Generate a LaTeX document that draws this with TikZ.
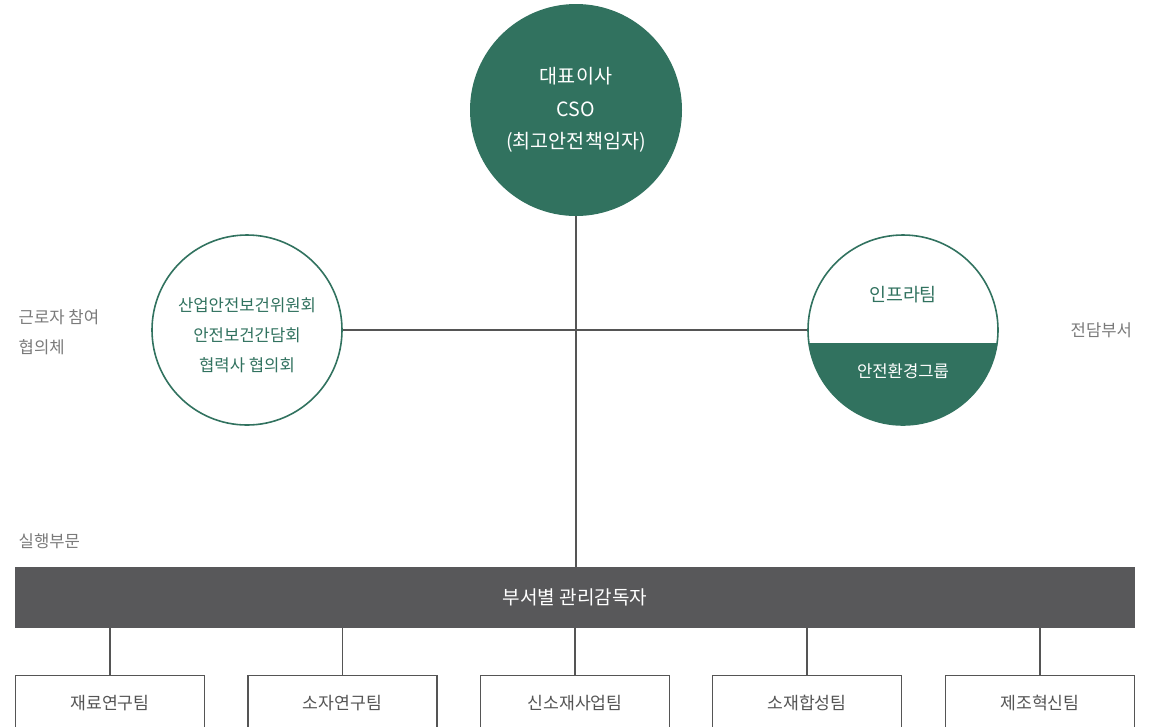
\documentclass[tikz,border=0pt]{standalone}
\usepackage{fontspec}
\setmainfont{Noto Sans CJK KR}
\definecolor{grn}{HTML}{31725F}
\definecolor{bar}{HTML}{58585A}
\definecolor{lbl}{HTML}{7A7A7A}
\definecolor{ln}{HTML}{555555}
\begin{document}
\begin{tikzpicture}[x=0.75pt,y=-0.75pt,
  conn/.style={draw=ln, line width=0.8pt},
  lbltext/.style={text=lbl, font=\fontsize{12.5}{22.5}\selectfont, anchor=west, align=left},
  teambox/.style={draw=ln, line width=0.8pt, minimum width=189*0.75pt, minimum height=60*0.75pt, anchor=north, inner sep=0pt},
  teamtext/.style={text=ln, font=\fontsize{12.9}{14}\selectfont}]
\useasboundingbox (0,0) rectangle (1163,726);
\clip (0,0) rectangle (1163,726);
\coordinate (vb) at (576,567);
% top circle
\node[circle, fill=grn, minimum size=212*0.75pt, inner sep=0pt] (ceo) at (576,110) {};
\node[text=white, align=center, font=\fontsize{14.7}{24.5}\selectfont] at (576,110) {대표이사\\CSO\\(최고안전책임자)};
% left circle
\node[circle, draw=grn, line width=1.2pt, fill=white, minimum size=190*0.75pt, inner sep=0pt] (cmt) at (247,330) {};
\node[text=grn, align=center, font=\fontsize{12.5}{22.5}\selectfont] at (247,335) {산업안전보건위원회\\안전보건간담회\\협력사 협의회};
% right circle
\begin{scope}
\clip (903,330) circle (95);
\fill[grn] (800,343) rectangle (1010,430);
\end{scope}
\node[circle, draw=grn, line width=1.2pt, minimum size=190*0.75pt, inner sep=0pt] (infra) at (903,330) {};
\node[text=grn, font=\fontsize{13.8}{15}\selectfont] (infrat) at (903,295) {인프라팀};
\node[text=white, font=\fontsize{12.5}{14}\selectfont] (env) at (903,371) {안전환경그룹};
\draw[conn] (cmt.east) -- (infra.west);
\draw[conn] (ceo.south) -- (vb);
% side labels
\node[lbltext] (l1) at (14,332) {근로자 참여\\협의체};
\node[lbltext] (l2) at (1066,330) {전담부서};
\node[lbltext] (l3) at (14,541) {실행부문};
% bar
\node[fill=bar, minimum width=1120*0.75pt, minimum height=61*0.75pt, inner sep=0pt, text=white, font=\fontsize{14.3}{16}\selectfont] (mgr) at (575,597.5) {부서별 관리감독자};
% teams
\foreach \x/\n/\t in {110/t1/재료연구팀, 342.5/t2/소자연구팀, 575/t3/신소재사업팀, 807/t4/소재합성팀, 1040/t5/제조혁신팀}{
  \node[teambox] (\n) at (\x,675) {};
  \node[teamtext] at (\x,703) {\t};
  \draw[conn] (\n.north) -- (\x,628);
}
\end{tikzpicture}
\end{document}
